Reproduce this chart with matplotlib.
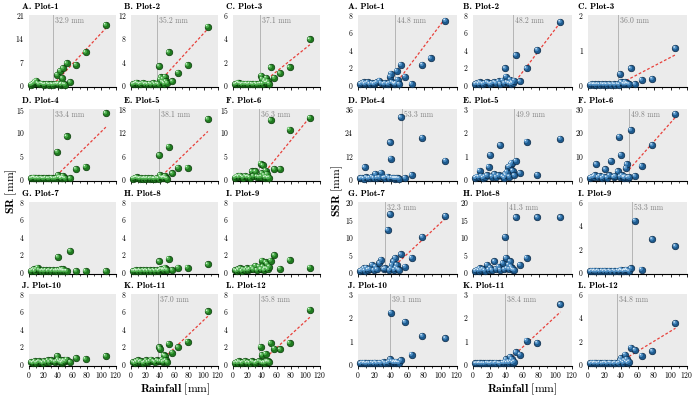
import numpy as np
import matplotlib
matplotlib.use("Agg")
import matplotlib.pyplot as plt
from matplotlib.transforms import offset_copy

plt.rcParams['font.family'] = ['cmr10']
plt.rcParams['mathtext.fontset'] = 'cm'
plt.rcParams['axes.formatter.use_mathtext'] = True

nan = np.nan

# ---------------- data ----------------
rainfall = [3, 5, 7, 8, 10, 12, 14, 17, 19, 21, 23, 26, 28, 31, 33, 36, 38,
            39, 40, 41, 43, 44, 45, 46, 47, 48, 50, 52, 57, 65, 78, 88, 106]

plot_names = ["A. Plot-1", "B. Plot-2", "C. Plot-3", "D. Plot-4", "E. Plot-5", "F. Plot-6",
              "G. Plot-7", "H. Plot-8", "I. Plot-9", "J. Plot-10", "K. Plot-11", "L. Plot-12"]

sr_1 = [0.1,0.3,0.6,1.0,1.3,0.5,0.2,0.4,0.3,0.1,0.2,0.3,0.1,0.2,0.1,0.2,0.3, 3.0,0.2,0.4,4.2,0.1,0.3,2.0,5.0,0.2,0.1, 6.5,0.8,6.0,9.8,nan,18.0]
sr_2 = [0.1,0.2,0.3,0.4,0.2,0.1,0.2,0.3,0.1,0.2,0.1,0.2,0.1,0.3,0.1,0.2,0.1, 3.2,0.9,1.3,0.5,1.0,0.4,0.2,1.4,0.6,0.3, 5.6,0.6,2.1,3.4,nan,10.0]
sr_3 = [0.05,0.1,0.2,0.15,0.1,0.05,0.1,0.08,0.1,0.05,0.1,0.08,0.05,0.1,0.05,0.08,0.1, 0.8,0.5,0.1,0.3,0.4,0.2,0.6,0.2,0.3,0.1, 1.5,0.6,1.0,1.5,nan,3.9]
sr_4 = [0.1,0.2,0.3,0.2,0.1,0.2,0.1,0.2,0.1,0.1,0.2,0.1,0.1,0.2,0.1,0.1,0.2, 5.8,0.8,0.3,0.4,0.1,0.2,0.3,0.6,0.2,0.1, 9.1,0.1,2.1,2.6,nan,14.1]
sr_5 = [0.1,0.2,0.3,0.4,0.2,0.1,0.2,0.1,0.2,0.1,0.2,0.1,0.2,0.1,0.1,0.2,0.1, 6.1,1.0,0.5,0.3,0.2,0.4,0.3,0.7,0.2,0.1, 8.3,1.4,2.9,2.9,nan,15.4]
sr_6 = [0.3,0.5,0.6,0.4,0.7,0.5,0.3,0.6,0.4,0.5,0.3,1.6,0.6,1.6,0.5,0.4,3.3, 0.5,1.2,2.9,0.8,0.3,1.8,0.4,1.0,0.2,0.3, 12.6,2.1,2.1,10.6,nan,13.1]
sr_7 = [0.1,0.2,0.3,0.1,0.3,0.5,0.2,0.1,0.2,0.1,0.2,0.1,0.2,0.1,0.2,0.1,0.2, 0.1,1.7,0.2,0.1,0.3,0.2,0.1,0.3,0.1,0.1, 0.1,2.4,0.1,0.1,nan,0.1]
sr_8 = [0.1,0.1,0.2,0.1,0.1,0.2,0.1,0.2,0.1,0.2,0.1,0.2,0.1,0.2,0.1,0.2,0.1, 1.2,0.2,0.3,0.3,0.2,0.3,0.2,0.5,0.3,0.2, 1.5,0.2,0.5,0.5,nan,0.85]
sr_9 = [0.2,0.1,0.3,0.2,0.4,0.1,0.3,0.2,0.4,0.2,0.3,0.5,0.3,0.7,0.2,0.6,0.3, 0.3,1.3,0.6,0.2,0.4,1.1,0.4,0.9,0.3,0.6, 1.3,1.9,0.35,1.35,nan,0.5]
sr_10 = [0.2,0.1,0.2,0.3,0.1,0.2,0.3,0.2,0.1,0.3,0.2,0.4,0.2,0.4,0.3,0.2,0.3, 0.9,0.5,0.3,0.2,0.4,0.1,0.3,0.2,0.4,0.3, 0.5,0.2,0.65,0.55,nan,0.9]
sr_11 = [0.2,0.1,0.3,0.2,0.4,0.2,0.3,0.1,0.2,0.4,0.2,0.3,0.5,0.3,0.2,0.4,0.3, 1.9,1.7,0.3,0.5,0.2,1.0,0.3,0.9,0.4,0.2, 2.3,1.3,1.9,2.55,nan,6.0]
sr_12 = [0.1,0.2,0.1,0.3,0.2,0.1,0.2,0.3,0.1,0.2,0.1,0.3,0.2,0.1,0.2,0.3,1.95, 0.2,1.0,0.1,0.2,0.1,1.15,0.3,0.2,0.3,0.2, 2.4,1.75,1.65,2.4,nan,6.2]

ssr_1 = [0.1,0.2,0.3,0.1,0.2,0.3,0.1,0.2,0.1,0.2,0.3,0.5,0.2,0.1,0.2,0.1,0.2, 0.95,1.3,0.3,0.2,0.1,0.1,0.2,1.6,0.6,0.1, 2.3,0.95,0.1,2.3,3.05,7.35]
ssr_2 = [0.1,0.2,0.1,0.3,0.2,0.1,0.2,0.3,0.2,0.1,0.2,0.3,0.2,0.4,0.1,0.5,0.2, 1.9,0.95,0.3,0.2,0.2,0.6,0.1,0.3,0.2,0.5, 3.4,0.4,1.9,4.0,nan,7.2]
ssr_3 = [0.01,0.02,0.01,0.02,0.01,0.02,0.01,0.02,0.01,0.02,0.01,0.02,0.01,0.02,0.01,0.02,0.01, 0.31,0.08,0.07,0.03,0.02,0.08,0.02,0.05,0.03,0.02, 0.47,0.02,0.14,0.17,nan,1.05]
ssr_4 = [0.3,0.5,0.2,6.0,0.8,0.3,0.5,1.0,0.4,2.6,0.6,0.8,3.2,0.5,0.7,1.2,0.4, 18.8,10.5,0.6,0.3,0.5,0.2,0.4,0.3,0.4,0.2, 31.7,0.5,2.0,21.2,nan,9.4]
ssr_5 = [0.05,0.1,0.08,0.35,0.12,0.05,0.1,0.15,0.52,1.03,0.1,0.2,0.08,0.15,1.45,0.1,0.05, 0.2,0.15,0.3,0.52,0.1,0.55,0.65,0.7,0.35,0.15, 0.77,0.25,1.6,0.17,nan,1.72]
ssr_6 = [0.5,0.8,1.0,1.5,6.3,0.7,1.2,0.4,1.0,4.1,0.6,1.5,7.7,0.8,1.2,3.2,18.1, 1.0,10.3,1.5,0.8,0.5,1.0,4.6,6.3,0.6,0.8, 21.0,1.2,5.5,14.5,nan,27.9]
ssr_7 = [0.3,0.5,1.0,0.4,1.2,0.6,0.8,2.0,0.5,1.5,0.7,2.5,3.5,0.8,1.0,12.0,0.5, 16.5,1.0,2.0,3.0,0.6,4.0,1.2,2.0,0.8,0.5, 5.0,1.5,4.0,10.0,nan,16.0]
ssr_8 = [0.3,0.6,0.4,1.0,0.5,0.8,0.4,2.0,0.6,1.2,0.5,3.0,0.8,1.5,0.6,2.5,0.7, 10.0,4.0,1.0,2.0,0.8,3.0,1.5,1.0,0.6,0.5, 15.6,2.0,4.0,15.6,nan,15.6]
ssr_9 = [0.05,0.1,0.05,0.1,0.05,0.1,0.05,0.1,0.05,0.1,0.05,0.1,0.05,0.1,0.05,0.1,0.05, 0.1,0.2,0.1,0.05,0.1,0.15,0.1,0.2,0.1,0.05, 0.3,4.4,0.2,2.8,nan,2.2]
ssr_10 = [0.02,0.05,0.03,0.05,0.02,0.04,0.03,0.05,0.02,0.06,0.03,0.05,0.04,0.08,0.03,0.05,0.1, 0.2,2.2,0.1,0.05,0.1,0.08,0.05,0.1,0.06,0.05, 0.15,1.8,0.4,1.2,nan,1.1]
ssr_11 = [0.02,0.03,0.02,0.04,0.02,0.03,0.02,0.04,0.03,0.02,0.04,0.03,0.05,0.03,0.02,0.05,0.04, 0.1,0.2,0.05,0.1,0.05,0.3,0.1,0.2,0.05,0.1, 0.5,0.4,1.0,0.9,nan,2.55]
ssr_12 = [0.05,0.1,0.05,0.1,0.08,0.05,0.1,0.05,0.08,0.1,0.05,0.1,0.08,0.05,0.1,0.05,0.1, 0.3,0.5,0.2,0.1,0.3,0.8,0.2,0.4,0.1,0.2, 1.4,1.2,0.7,1.1,nan,3.5]

sr_series = [sr_1, sr_2, sr_3, sr_4, sr_5, sr_6, sr_7, sr_8, sr_9, sr_10, sr_11, sr_12]
ssr_series = [ssr_1, ssr_2, ssr_3, ssr_4, ssr_5, ssr_6, ssr_7, ssr_8, ssr_9, ssr_10, ssr_11, ssr_12]

sr_ymax = [21, 12, 6, 15, 18, 15, 8, 8, 8, 8, 8, 8]
sr_ystep = [7, 4, 2, 5, 6, 5, 2, 2, 2, 2, 2, 2]
ssr_ymax = [8, 8, 2, 36, 3, 30, 20, 20, 6, 3, 3, 6]
ssr_ystep = [2, 2, 1, 12, 1, 10, 5, 5, 2, 1, 1, 2]

sr_thr = [32.9, 35.2, 37.1, 33.4, 38.1, 36.3, nan, nan, nan, nan, 37.0, 35.8]
sr_slope = [0.233, 0.136, 0.05, 0.153, 0.18, 0.19, nan, nan, nan, nan, 0.079, 0.076]
sr_icpt = [0, 0, 0, 0, 0, 0, nan, nan, nan, nan, 0, 0]

ssr_thr = [44.8, 48.2, 36.0, 53.3, 49.9, 49.8, 32.3, 41.3, 53.3, 39.1, 38.4, 34.8]
ssr_slope = [0.125, 0.124, 0.0123, nan, nan, 0.4, 0.22, nan, nan, nan, 0.033, 0.043]
ssr_icpt = [0, 0, 0, nan, nan, 4.0, -0.9, nan, nan, nan, 0, 0]

fit_end = 106

# ---------------- layout ----------------
W, H = 700, 397
fig = plt.figure(figsize=(W / 100, H / 100), dpi=100)

row_tops = [15, 109, 202, 294]
ax_h = 72

GREEN = dict(base="#1f7a1f", edge="#0a3a0a", mid="#4fb04f", hi="#d8f5d8")
BLUE = dict(base="#1d5a8e", edge="#0b2844", mid="#4f8fc4", hi="#dcecf8")


def balls(ax, x, y, col):
    ax.scatter(x, y, s=22, c=col["base"], edgecolors=col["edge"], linewidths=0.5,
               zorder=3, clip_on=False)
    t1 = offset_copy(ax.transData, fig=fig, x=-0.5, y=0.5, units='points')
    ax.scatter(x, y, s=8, c=col["mid"], edgecolors='none', transform=t1,
               zorder=4, clip_on=False)
    t2 = offset_copy(ax.transData, fig=fig, x=-0.9, y=0.9, units='points')
    ax.scatter(x, y, s=1.3, c=col["hi"], edgecolors='none', transform=t2,
               zorder=5, clip_on=False)


def panel(lefts, width, series, ymaxs, ysteps, thrs, slopes, icpts, col, title_dx):
    x = np.array(rainfall, dtype=float)
    for i in range(12):
        r, c = divmod(i, 3)
        left = lefts[c] / W
        bottom = 1 - (row_tops[r] + ax_h) / H
        ax = fig.add_axes([left, bottom, width / W, ax_h / H])
        ax.set_facecolor("#ebebeb")
        for s in ("top", "right", "left"):
            ax.spines[s].set_visible(False)
        ax.spines["bottom"].set_linewidth(0.8)
        ymax = ymaxs[i]
        ax.set_xlim(0, 120)
        ax.set_ylim(-0.03 * ymax, ymax)
        ax.set_yticks(np.arange(0, ymax + 0.001, ysteps[i]))
        ax.set_xticks(np.arange(0, 121, 20))
        ax.set_xticks(np.arange(0, 121, 10), minor=True)
        ax.tick_params(axis='y', length=0, pad=3, labelsize=5.5)
        ax.tick_params(axis='x', which='major', length=2, width=0.6, pad=1, labelsize=5.5)
        ax.tick_params(axis='x', which='minor', length=1.2, width=0.5)
        if r < 3:
            ax.set_xticklabels([])
        y = np.array(series[i], dtype=float)
        thr = thrs[i]
        if not np.isnan(thr):
            ax.axvline(thr, color="#b5b5b5", lw=0.7, zorder=1)
            ax.annotate(f"{thr:.1f} mm", xy=(thr, 0.92), xycoords=ax.get_xaxis_transform(),
                        xytext=(1.5, 0), textcoords='offset points', ha='left', va='center',
                        fontsize=5.5, color="#808080", zorder=2)
            if not np.isnan(slopes[i]):
                b, a = slopes[i], icpts[i]
                x0 = thr if a >= 0 else thr - a / b
                xs = np.array([x0, fit_end])
                ax.plot(xs, a + b * (xs - thr), color="#e8403a", lw=0.9,
                        ls=(0, (2.2, 1.6)), zorder=2)
        balls(ax, x, y, col)
        ax.annotate(plot_names[i], xy=(0, 1), xycoords='axes fraction',
                    xytext=(title_dx, 3), textcoords='offset points', ha='left', va='bottom',
                    fontsize=6.5, family='cmb10')


panel([29, 131, 233], 87, sr_series, sr_ymax, sr_ystep, sr_thr, sr_slope, sr_icpt, GREEN, -5)
panel([358, 473, 588], 99, ssr_series, ssr_ymax, ssr_ystep, ssr_thr, ssr_slope, ssr_icpt, BLUE, -7)

fig.text(11 / W, 1 - 191 / H, r"$\mathbf{SR}\ [\mathrm{mm}]$", rotation=90, ha='center',
         va='center', fontsize=8.5)
fig.text(337 / W, 1 - 191 / H, r"$\mathbf{SSR}\ [\mathrm{mm}]$", rotation=90, ha='center',
         va='center', fontsize=8.5)
fig.text(175 / W, 1 - 389 / H, r"$\mathbf{Rainfall}\ [\mathrm{mm}]$", ha='center',
         va='center', fontsize=8.5)
fig.text(522 / W, 1 - 389 / H, r"$\mathbf{Rainfall}\ [\mathrm{mm}]$", ha='center',
         va='center', fontsize=8.5)

fig.savefig("out.png", dpi=100)
